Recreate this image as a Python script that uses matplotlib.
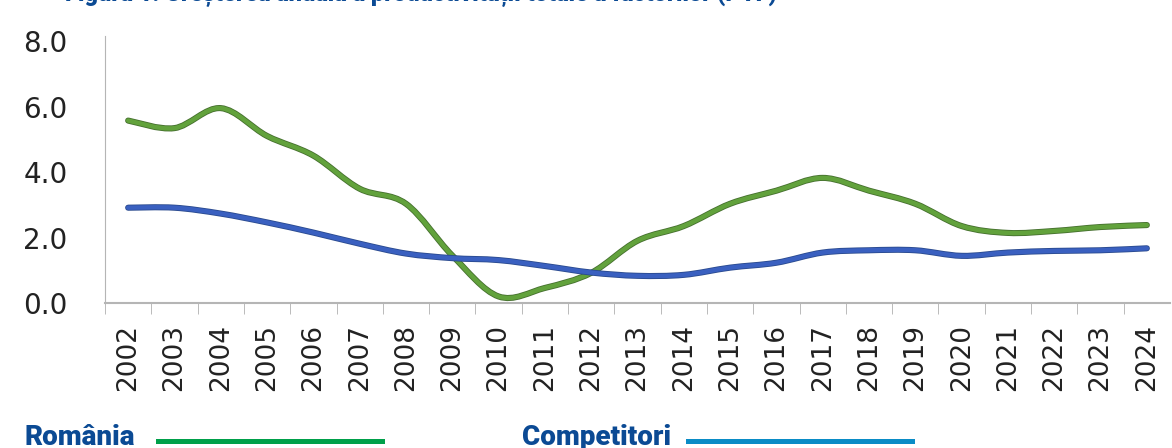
import numpy as np
import matplotlib
matplotlib.use("Agg")
import matplotlib.pyplot as plt
from matplotlib.path import Path
from matplotlib.patches import PathPatch
import matplotlib.patheffects as pe

years = list(range(2002, 2025))
romania = [5.57, 5.34, 5.95, 5.10, 4.50, 3.49, 3.03, 1.45, 0.20, 0.46, 0.92, 1.90,
           2.35, 3.03, 3.43, 3.82, 3.43, 3.03, 2.35, 2.14, 2.20, 2.32, 2.38]
competitori = [2.91, 2.91, 2.73, 2.46, 2.15, 1.81, 1.51, 1.37, 1.31, 1.13, 0.93, 0.83,
               0.86, 1.08, 1.23, 1.54, 1.61, 1.61, 1.44, 1.54, 1.59, 1.61, 1.67]
y_ticks = [0.0, 2.0, 4.0, 6.0, 8.0]

title = "Figura 1. Creșterea anuală a productivității totale a factorilor (PTF)"
label_ro = "România"
label_comp = "Competitori"


def smooth_path(xs, ys):
    # Excel-like smoothed line: Catmull-Rom segments as cubic Bezier curves
    pts = np.column_stack([xs, ys]).astype(float)
    verts = [pts[0]]
    codes = [Path.MOVETO]
    n = len(pts)
    for i in range(n - 1):
        p0 = pts[i - 1] if i > 0 else pts[i]
        p1 = pts[i]
        p2 = pts[i + 1]
        p3 = pts[i + 2] if i + 2 < n else pts[i + 1]
        c1 = p1 + (p2 - p0) / 6.0
        c2 = p2 - (p3 - p1) / 6.0
        verts += [c1, c2, p2]
        codes += [Path.CURVE4] * 3
    return Path(verts, codes)


fig = plt.figure(figsize=(11.72, 4.48), dpi=100)
ax = fig.add_axes([105 / 1172, 1 - 303 / 448, 1065 / 1172, 262 / 448])

green = PathPatch(smooth_path(years, romania), fill=False, lw=3.2, edgecolor="#62a23c",
                  capstyle="round", zorder=3)
green.set_path_effects([pe.Stroke(linewidth=4.4, foreground="#456f2e"), pe.Normal()])
ax.add_patch(green)

blue = PathPatch(smooth_path(years, competitori), fill=False, lw=3.2, edgecolor="#3a60c0",
                 capstyle="round", zorder=3)
blue.set_path_effects([pe.Stroke(linewidth=4.4, foreground="#2a4a8e"), pe.Normal()])
ax.add_patch(blue)

ax.set_xlim(2001.5, 2024.5)
ax.set_ylim(0, 8)

ax.set_xticks(years)
ax.set_xticklabels([str(y) for y in years], rotation=90, fontsize=19, color="#222222",
                   fontweight="medium")
ax.set_xticks([y + 0.5 for y in years[:-1]] + [2001.5], minor=True)
ax.tick_params(axis="x", which="major", length=0, pad=15)
ax.tick_params(axis="x", which="minor", length=8, color="#b0b0b0", direction="out")

ax.set_yticks(y_ticks)
ax.set_yticklabels([f"{v:.1f}" for v in y_ticks], fontsize=20, color="#222222")
ax.tick_params(axis="y", length=0, pad=27)

for s in ["top", "right"]:
    ax.spines[s].set_visible(False)
ax.spines["left"].set_color("#b5b5b5")
ax.spines["bottom"].set_color("#b5b5b5")
ax.spines["bottom"].set_linewidth(1.5)
ax.spines["left"].set_bounds(0, 8.15)

# title, mostly cut off by the top edge
fig.text(65 / 1172, 1 - 2 / 448, title, fontsize=17, fontweight="heavy",
         color="#0b4a94", family=["Roboto", "DejaVu Sans"], va="baseline")

# legend drawn as separate pieces
fig.text(24 / 1172, 1 - 445 / 448, label_ro, fontsize=20, fontweight="heavy",
         color="#0b4a94", family=["Roboto", "DejaVu Sans"], va="baseline")
fig.text(522 / 1172, 1 - 445 / 448, label_comp, fontsize=20, fontweight="heavy",
         color="#0b4a94", family=["Roboto", "DejaVu Sans"], va="baseline")
fig.add_artist(plt.Line2D([158 / 1172, 382 / 1172], [1 - 441 / 448] * 2, lw=3.6,
                          color="#00a04a", transform=fig.transFigure))
fig.add_artist(plt.Line2D([688 / 1172, 912 / 1172], [1 - 441 / 448] * 2, lw=3.6,
                          color="#0a8cc6", transform=fig.transFigure))

fig.savefig("out.png", dpi=100)
